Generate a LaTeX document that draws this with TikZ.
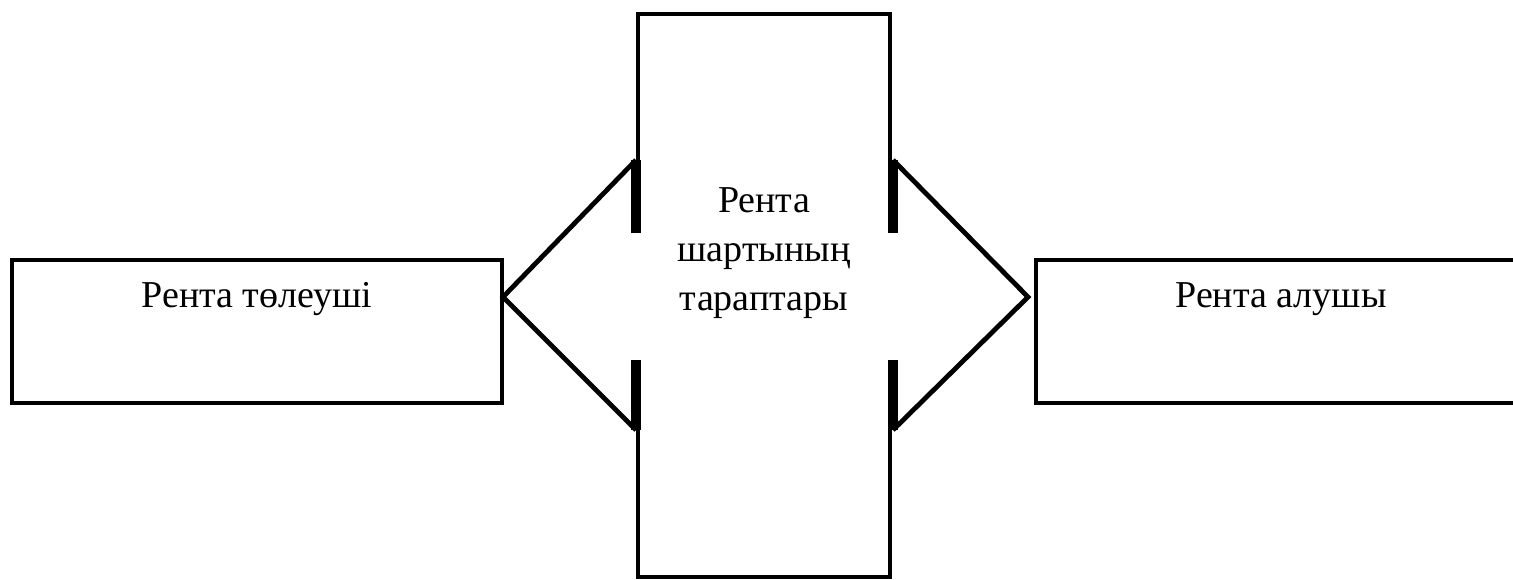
\documentclass[tikz,border=0pt]{standalone}
\usepackage{fontspec}
\setmainfont{Liberation Serif}
\begin{document}
\begin{tikzpicture}[x=0.5pt,y=-0.5pt,line width=2.4pt,
        box/.style={draw,rectangle,inner sep=0pt,minimum width=245pt,minimum height=71.5pt},
        boxtext/.style={inner sep=0pt,font=\fontsize{19pt}{24.5pt}\selectfont},
        flag/.style={line width=4.6pt}]

        \clip (0,0) rectangle (1513,579);

        % Side boxes for the two parties
        \node[box] (payer) at (257,331.5) {};
        \node[box] (receiver) at (1281,331.5) {};
        \node[boxtext,anchor=base] (payertext) at (257,307) {Рента төлеуші};
        \node[boxtext,anchor=base] (receivertext) at (1281,307) {Рента алушы};

        % Define coordinates for the central box and the arrow heads
        \coordinate (tipL) at (503,297);
        \coordinate (tipR) at (1028,297);
        \coordinate (lu) at (636,160);
        \coordinate (lum) at (636,233);
        \coordinate (ldm) at (636,360);
        \coordinate (ld) at (636,430);
        \coordinate (ru) at (893,160);
        \coordinate (rum) at (893,233);
        \coordinate (rdm) at (893,360);
        \coordinate (rd) at (893,430);

        % Draw the central box, open where the arrows pass
        \draw (638,233) -- (638,14) -- (890,14) -- (890,233);
        \draw (638,360) -- (638,577) -- (890,577) -- (890,360);
        \node[boxtext,anchor=base,align=center] (partytext) at (764,310) {Рента\\шартының\\тараптары};

        % Draw the arrow heads
        \draw (lu) -- (tipL) -- (ld);
        \draw (ru) -- (tipR) -- (rd);
        \draw[flag] (lu) -- (lum);
        \draw[flag] (ldm) -- (ld);
        \draw[flag] (ru) -- (rum);
        \draw[flag] (rdm) -- (rd);

    \end{tikzpicture}
\end{document}
